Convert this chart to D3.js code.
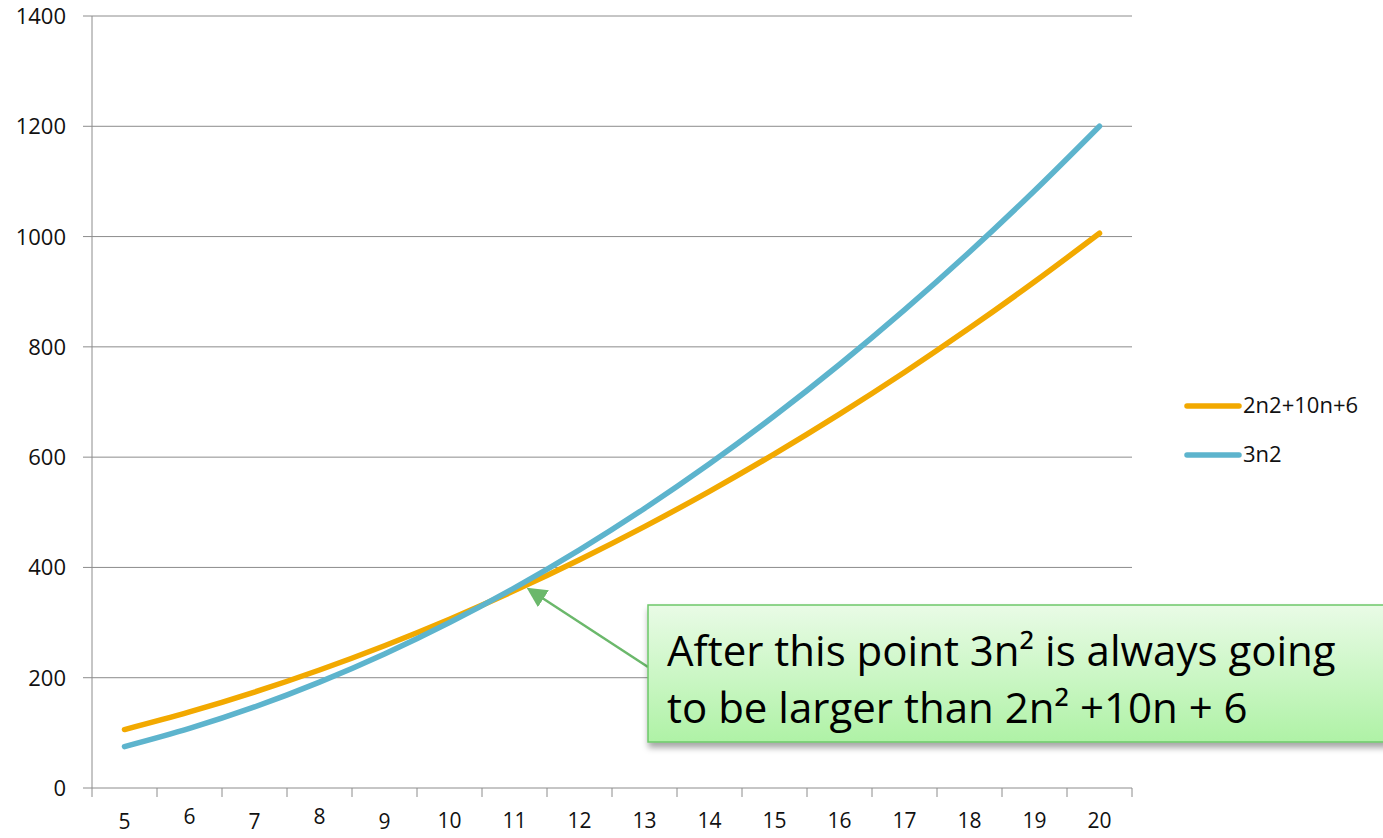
<!DOCTYPE html>
<html><head><meta charset="utf-8">
<script src="https://cdn.jsdelivr.net/npm/d3@7"></script>
<style>body{margin:0;background:#fff;overflow:hidden}text{font-family:"Open Sans","Noto Sans",sans-serif}</style>
</head><body><svg id="c" width="1383" height="838"></svg>
<script>
const categories = [5,6,7,8,9,10,11,12,13,14,15,16,17,18,19,20];
const seriesNames = ["2n2+10n+6","3n2"];
const seriesA = [106,138,174,214,258,306,358,414,474,538,606,678,754,834,918,1006];
const seriesB = [75,108,147,192,243,300,363,432,507,588,675,768,867,972,1083,1200];
const yTicks = [0,200,400,600,800,1000,1200,1400];
const colors = ["#f2a900","#5db4cd"];
const note = ["After this point 3n² is always going","to be larger than 2n² +10n + 6"];

const svg = d3.select("#c");
const L=92,R=1132,T=16,B=788;
const x = d3.scaleBand().domain(categories).range([L,R]);
const y = d3.scaleLinear().domain([0,1400]).range([B,T]);

svg.append("g").selectAll("line").data(yTicks).join("line")
 .attr("x1",83).attr("x2",R).attr("y1",d=>y(d)).attr("y2",d=>y(d))
 .attr("stroke","#8c8c8c").attr("stroke-width",1);
svg.append("line").attr("x1",L).attr("x2",L).attr("y1",T).attr("y2",B).attr("stroke","#8c8c8c");
svg.append("g").selectAll("text").data(yTicks).join("text")
 .attr("x",66).attr("y",d=>y(d)+8).attr("text-anchor","end")
 .attr("font-size",22).attr("fill","#111").text(d=>d);
const xt = categories.map(c=>x(c)).concat([R]);
svg.append("g").selectAll("line").data(xt).join("line")
 .attr("x1",d=>d).attr("x2",d=>d).attr("y1",B).attr("y2",B+9).attr("stroke","#8c8c8c");
svg.append("g").selectAll("text").data(categories).join("text")
 .attr("x",d=>x(d)+x.bandwidth()/2).attr("y",d=>(d===5||d===7||d===9)?829:(d<10?824:828))
 .attr("text-anchor","middle").attr("font-size",21).attr("fill","#111").text(d=>d);

const line = d3.line().x((d,i)=>x(categories[i])+x.bandwidth()/2).y(d=>y(d)).curve(d3.curveCatmullRom);
[seriesA,seriesB].forEach((s,i)=>{
 svg.append("path").attr("d",line(s)).attr("fill","none").attr("stroke",colors[i])
  .attr("stroke-width",5.5).attr("stroke-linecap","round").attr("stroke-linejoin","round");
});
seriesNames.forEach((n,i)=>{
 const ly = 406 + i*49;
 svg.append("line").attr("x1",1187).attr("x2",1239).attr("y1",ly).attr("y2",ly)
  .attr("stroke",colors[i]).attr("stroke-width",5.5).attr("stroke-linecap","round");
 svg.append("text").attr("x",1243).attr("y",ly+7).attr("font-size",22).attr("fill","#111").text(n);
});

const defs = svg.append("defs");
const g = defs.append("linearGradient").attr("id","gg").attr("x1",0).attr("x2",0).attr("y1",0).attr("y2",1);
g.append("stop").attr("offset","0").attr("stop-color","#e9fbe6");
g.append("stop").attr("offset","1").attr("stop-color","#aff2a6");
const f = defs.append("filter").attr("id","sh").attr("x","-10%").attr("y","-10%").attr("width","130%").attr("height","140%");
f.append("feDropShadow").attr("dx",1).attr("dy",5).attr("stdDeviation",3).attr("flood-color","#000").attr("flood-opacity",0.35);
const mk = defs.append("marker").attr("id","ah").attr("viewBox","0 0 10 10").attr("refX",8).attr("refY",5)
 .attr("markerWidth",8).attr("markerHeight",8).attr("orient","auto").attr("markerUnits","strokeWidth");
mk.append("path").attr("d","M0,0L10,5L0,10z").attr("fill","#6bb86b");
svg.append("line").attr("x1",648).attr("y1",667).attr("x2",530).attr("y2",590)
 .attr("stroke","#6bb86b").attr("stroke-width",2.5).attr("marker-end","url(#ah)");
svg.append("rect").attr("x",648).attr("y",605).attr("width",740).attr("height",137)
 .attr("fill","url(#gg)").attr("stroke","#6cc86a").attr("stroke-width",1.5).attr("filter","url(#sh)");
note.forEach((t,i)=>{
 svg.append("text").attr("x",667).attr("y",666+i*57).attr("font-size",42).attr("fill","#000").text(t);
});
</script></body></html>
